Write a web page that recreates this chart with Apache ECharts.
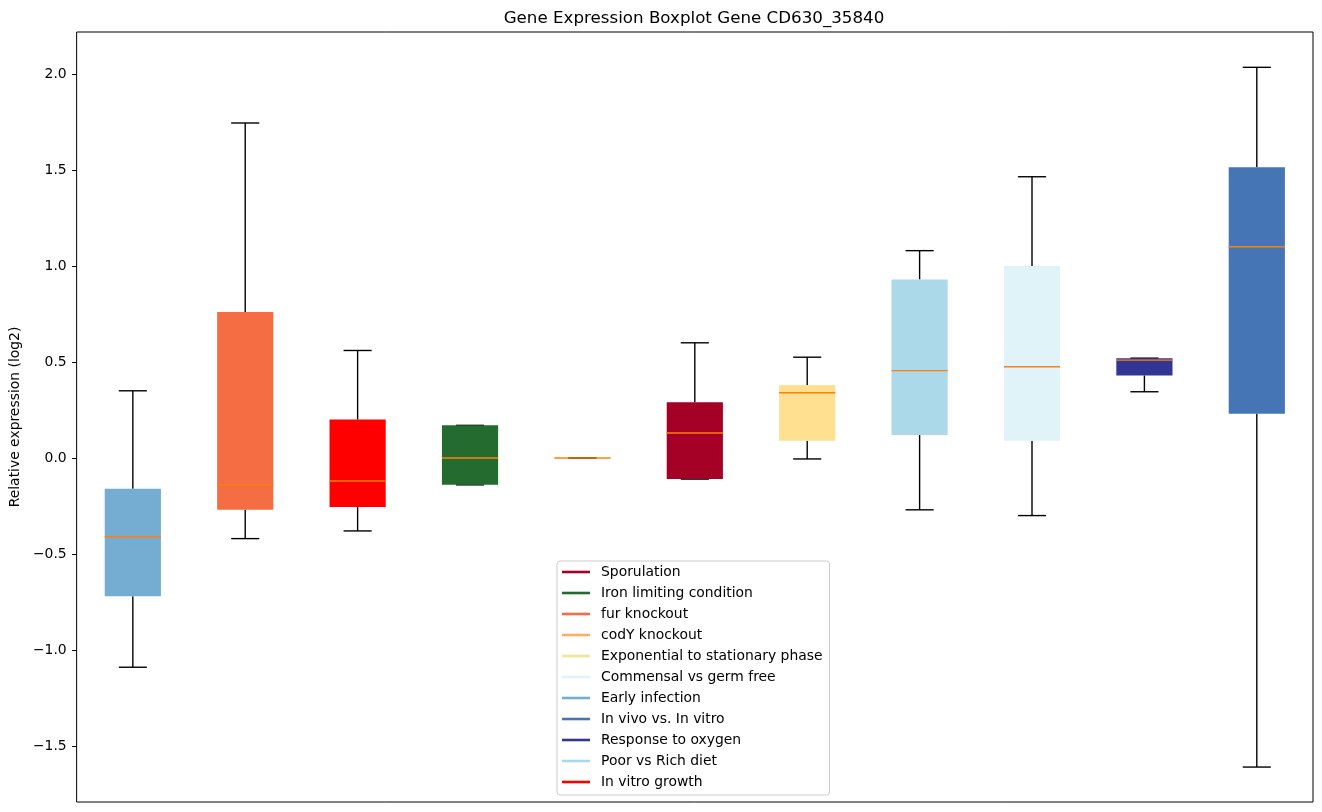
<!DOCTYPE html>
<html>
<head>
<meta charset="utf-8">
<script src="https://cdn.jsdelivr.net/npm/echarts@6/dist/echarts.min.js"></script>
<style>
html,body{margin:0;padding:0;background:#fff;}
#chart{width:1322px;height:812px;}
</style>
</head>
<body>
<div id="chart"></div>
<script>
// Box order along the x axis
const categories = ["Early infection", "fur knockout", "In vitro growth", "Iron limiting condition", "codY knockout", "Sporulation", "Exponential to stationary phase", "Poor vs Rich diet", "Commensal vs germ free", "Response to oxygen", "In vivo vs. In vitro"];
const colors = ["#74add1", "#f46d43", "#ff0000", "#236b2f", "#fdae61", "#a50026", "#fee090", "#abd9e9", "#e0f3f8", "#313695", "#4575b4"];
const whiskerLow  = [-1.09, -0.42, -0.38, -0.14, 0.0, -0.11, -0.005, -0.27, -0.30, 0.345, -1.61];
const q1          = [-0.72, -0.27, -0.255, -0.14, 0.0, -0.11, 0.09, 0.12, 0.09, 0.43, 0.23];
const medians     = [-0.41, -0.14, -0.12, 0.0, 0.0, 0.13, 0.34, 0.455, 0.475, 0.51, 1.10];
const q3          = [-0.16, 0.76, 0.20, 0.17, 0.0, 0.29, 0.38, 0.93, 1.0, 0.52, 1.515];
const whiskerHigh = [0.35, 1.745, 0.56, 0.17, 0.0, 0.60, 0.525, 1.08, 1.465, 0.52, 2.035];
const legendOrder = ["Sporulation", "Iron limiting condition", "fur knockout", "codY knockout", "Exponential to stationary phase", "Commensal vs germ free", "Early infection", "In vivo vs. In vitro", "Response to oxygen", "Poor vs Rich diet", "In vitro growth"];
const yTicks = [-1.5, -1.0, -0.5, 0.0, 0.5, 1.0, 1.5, 2.0];

const FONT = "DejaVu Sans";

function renderBox(params, api) {
  const idx = api.value(0);
  const x = api.coord([idx, 0])[0];
  const band = api.size([1, 0])[0];
  const bw = band * 0.5;
  const cw = bw * 0.5;
  const yLo = api.coord([idx, api.value(1)])[1];
  const yQ1 = api.coord([idx, api.value(2)])[1];
  const yMed = api.coord([idx, api.value(3)])[1];
  const yQ3 = api.coord([idx, api.value(4)])[1];
  const yHi = api.coord([idx, api.value(5)])[1];
  const color = api.visual('color');
  const lw = 1.39;
  const black = {stroke: '#000', lineWidth: lw, fill: null};
  return {
    type: 'group',
    children: [
      {type: 'line', shape: {x1: x, y1: yQ1, x2: x, y2: yLo}, style: black},
      {type: 'line', shape: {x1: x, y1: yQ3, x2: x, y2: yHi}, style: black},
      {type: 'line', shape: {x1: x - cw / 2, y1: yLo, x2: x + cw / 2, y2: yLo}, style: black},
      {type: 'line', shape: {x1: x - cw / 2, y1: yHi, x2: x + cw / 2, y2: yHi}, style: black},
      {type: 'rect', shape: {x: x - bw / 2, y: yQ3, width: bw, height: Math.max(yQ1 - yQ3, 0)}, style: {fill: color, stroke: null}},
      {type: 'line', shape: {x1: x - bw / 2, y1: yMed, x2: x + bw / 2, y2: yMed}, style: {stroke: '#ff7f0e', lineWidth: lw}}
    ]
  };
}

const series = categories.map((name, i) => ({
  name: name,
  type: 'custom',
  renderItem: renderBox,
  itemStyle: {color: colors[i]},
  encode: {x: 0, y: [1, 2, 3, 4, 5]},
  data: [[i, whiskerLow[i], q1[i], medians[i], q3[i], whiskerHigh[i]]],
  z: 2
}));

const chart = echarts.init(document.getElementById('chart'), null, {renderer: 'canvas'});
chart.setOption({
  backgroundColor: '#fff',
  animation: false,
  title: {
    text: 'Gene Expression Boxplot Gene CD630_35840',
    left: 689,
    textAlign: 'center',
    top: 5,
    textStyle: {fontFamily: FONT, fontSize: 16.7, fontWeight: 'normal', color: '#000'}
  },
  grid: {
    left: 73, right: 9, top: 32, bottom: 10,
    show: true, borderColor: '#000', borderWidth: 1, backgroundColor: 'transparent',
    containLabel: false
  },
  legend: {
    orient: 'vertical',
    left: 557,
    top: 561,
    data: legendOrder,
    icon: 'rect',
    itemWidth: 28,
    itemHeight: 2.6,
    itemGap: 7,
    padding: [4, 7, 6, 5],
    backgroundColor: 'rgba(255,255,255,0.8)',
    borderColor: '#cccccc',
    borderWidth: 1,
    borderRadius: 3,
    selectedMode: false,
    textStyle: {fontFamily: FONT, fontSize: 13.9, color: '#000', lineHeight: 14, padding: [0, 0, 0, 6]}
  },
  xAxis: {
    type: 'category',
    data: categories,
    boundaryGap: true,
    axisLine: {show: false},
    axisTick: {show: false},
    axisLabel: {show: false},
    splitLine: {show: false}
  },
  yAxis: {
    type: 'value',
    min: -1.792,
    max: 2.219,
    name: 'Relative expression (log2)',
    nameLocation: 'middle',
    nameGap: 50,
    nameTextStyle: {fontFamily: FONT, fontSize: 13.9, color: '#000'},
    axisLine: {show: false},
    axisTick: {show: true, length: 4.5, lineStyle: {color: '#000', width: 1}, customValues: yTicks},
    axisLabel: {
      customValues: yTicks,
      margin: 10,
      fontFamily: FONT, fontSize: 13.9, color: '#000',
      formatter: v => (v < 0 ? '\u2212' : '') + Math.abs(v).toFixed(1)
    },
    splitLine: {show: false}
  },
  series: series
});
</script>
</body>
</html>
